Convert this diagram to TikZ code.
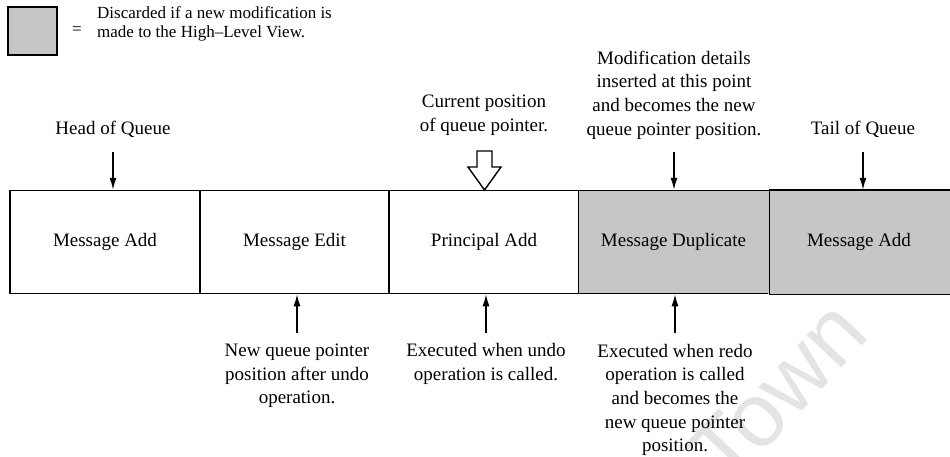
\documentclass[tikz,border=0pt]{standalone}
\usepackage{fontspec}
\setmainfont{Liberation Serif}
\newfontfamily\wmfont{Liberation Sans}
\usetikzlibrary{arrows.meta}

\definecolor{discard}{RGB}{198,198,198}
\definecolor{wmgray}{RGB}{228,228,228}

\tikzset{
  txt/.style={align=center, inner sep=0pt, font=\fontsize{19}{23.6}\selectfont},
  legendtxt/.style={align=left, inner sep=0pt, font=\fontsize{17}{18.5}\selectfont},
  cell/.style={draw, line width=1.5pt, minimum height=103pt, inner sep=0pt,
               font=\fontsize{19}{23.6}\selectfont},
  oldcell/.style={cell, minimum width=190pt},
  dropcell/.style={oldcell, fill=discard},
  ptr/.style={line width=1.4pt, -{Latex[length=12pt,width=7pt]}},
  hollow/.style={line width=1.4pt, fill=white, line join=miter}
}

\begin{document}
\begin{tikzpicture}[x=1pt, y=-1pt]
\useasboundingbox (0,0) rectangle (950,456);
\clip (0,0) rectangle (950,456);

% faint watermark behind everything
\node[font=\wmfont\fontsize{90}{90}\selectfont, text=wmgray, rotate=47,
      inner sep=0pt] (wm) at (778,392) {Town};

% legend
\node[draw, line width=1.5pt, fill=discard, minimum width=49pt,
      minimum height=48pt, inner sep=0pt] (key) at (32.5,31) {};
\node[legendtxt] (eq) at (77,31) {=};
\node[legendtxt, anchor=west] (keytxt) at (97,24)
  {Discarded if a new modification is\\made to the High\textendash Level View.};

% the queue
\node[oldcell]  (q1) at (105,242) {Message Add};
\node[oldcell]  (q2) at (294.5,242) {Message Edit};
\node[oldcell]  (q3) at (484,242) {Principal Add};
\node[dropcell] (q4) at (673.5,242) {Message Duplicate};
\node[cell, draw=none, fill=discard, minimum width=182pt] (q5) at (859,242) {Message Add};
\draw[line width=1.5pt] (q4.north east) -- (q5.north east);
\draw[line width=1.5pt] (q4.south east) -- (q5.south east);
\draw[line width=1.5pt] (q4.north east) -- (q4.south east);

% labels above the queue
\node[txt] (head) at (113,129) {Head of Queue};
\node[txt] (cur)  at (484,115) {Current position\\of queue pointer.};
\node[txt] (ins)  at (674,95)  {Modification details\\inserted at this point\\and becomes the new\\queue pointer position.};
\node[txt] (tail) at (863,129) {Tail of Queue};

% labels below the queue
\node[txt] (newp) at (297,376) {New queue pointer\\position after undo\\operation.};
\node[txt] (undo) at (486,364) {Executed when undo\\operation is called.};
\node[txt] (redo) at (675,400) {Executed when redo\\operation is called\\and becomes the\\new queue pointer\\position.};

% arrow starts
\coordinate (headS) at (113,152);
\coordinate (insS)  at (674,152);
\coordinate (tailS) at (863,152);
\coordinate (newpS) at (297,333);
\coordinate (undoS) at (486,333);
\coordinate (redoS) at (675,333);

\draw[ptr] (headS) -- (headS |- q1.north);
\draw[ptr] (insS)  -- (insS |- q4.north);
\draw[ptr] (tailS) -- (tailS |- q5.north);
\draw[ptr] (newpS) -- (newpS |- q2.south);
\draw[ptr] (undoS) -- (undoS |- q3.south);
\draw[ptr] (redoS) -- (redoS |- q4.south);

% hollow arrow marking the current queue pointer
\coordinate (curTip) at (484.5,190);
\draw[hollow] (477,151) -- (492,151) -- (492,167) -- (501,167) -- (curTip)
  -- (468,167) -- (477,167) -- cycle;
\end{tikzpicture}
\end{document}
